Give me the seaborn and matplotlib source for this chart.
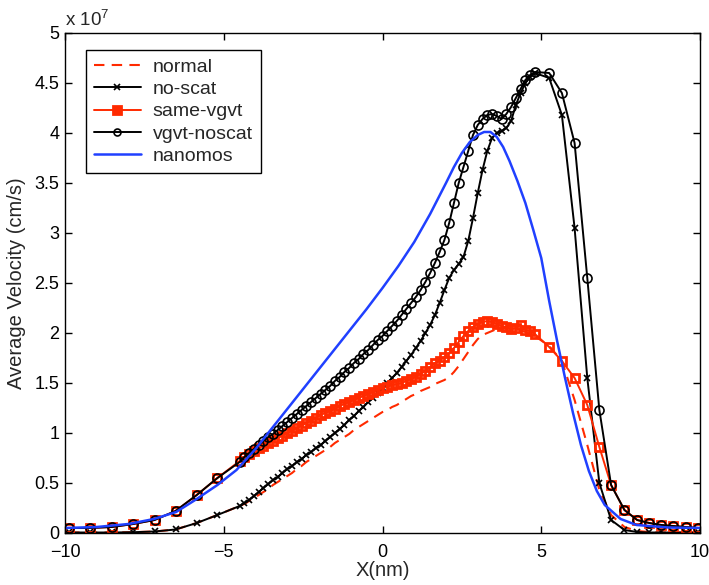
import matplotlib
matplotlib.use("Agg")
import matplotlib.pyplot as plt
import seaborn as sns
import pandas as pd

# ---------------- data (velocity in units of 1e7 cm/s) ----------------
x_nm = [-9.87, -9.2, -8.52, -7.85, -7.18, -6.52, -5.85, -5.2, -4.5,
        -4.35, -4.2, -4.05, -3.9, -3.75, -3.6, -3.45, -3.3, -3.15, -3.0,
        -2.85, -2.7, -2.55, -2.4, -2.25, -2.1, -1.95, -1.8, -1.65, -1.5,
        -1.35, -1.2, -1.05, -0.9, -0.75, -0.6, -0.45, -0.3, -0.15, 0.0,
        0.15, 0.3, 0.45, 0.6, 0.75, 0.9, 1.05, 1.2, 1.35, 1.5,
        1.65, 1.8, 1.95, 2.1, 2.25, 2.4, 2.55, 2.7, 2.85, 3.0,
        3.15, 3.3, 3.45, 3.6, 3.75, 3.9, 4.05, 4.2, 4.35, 4.5,
        4.65, 4.8,
        5.25, 5.65, 6.05, 6.45, 6.83, 7.2, 7.62, 8.02, 8.4, 8.78, 9.15, 9.55, 9.95]

normal = [0.005, 0.005, 0.005, 0.008, 0.015, 0.035, 0.10, 0.18, 0.27,
          0.29, 0.32, 0.35, 0.38, 0.41, 0.44, 0.48, 0.51, 0.54, 0.57,
          0.60, 0.64, 0.67, 0.71, 0.74, 0.77, 0.80, 0.83, 0.86, 0.90,
          0.93, 0.96, 0.99, 1.03, 1.06, 1.09, 1.12, 1.15, 1.18, 1.21,
          1.23, 1.26, 1.28, 1.31, 1.34, 1.37, 1.39, 1.42, 1.44, 1.46,
          1.49, 1.51, 1.53, 1.56, 1.61, 1.67, 1.74, 1.81, 1.88, 1.94,
          1.98, 2.00, 2.02, 2.04, 2.05, 2.05, 2.04, 2.03, 2.02, 2.01,
          1.99, 1.97,
          1.87, 1.72, 1.33, 0.88, 0.43, 0.18, 0.06, 0.02, 0.01, 0.005, 0.005, 0.005, 0.005]

no_scat = [0.005, 0.005, 0.005, 0.008, 0.015, 0.035, 0.10, 0.18, 0.27,
           0.30, 0.33, 0.37, 0.41, 0.45, 0.49, 0.53, 0.56, 0.60, 0.64,
           0.67, 0.71, 0.74, 0.78, 0.81, 0.85, 0.88, 0.92, 0.96, 1.00,
           1.04, 1.08, 1.13, 1.17, 1.22, 1.26, 1.31, 1.35, 1.40, 1.45,
           1.50, 1.55, 1.60, 1.66, 1.72, 1.78, 1.85, 1.92, 2.00, 2.08,
           2.18, 2.30, 2.43, 2.55, 2.63, 2.69, 2.76, 2.92, 3.15, 3.40,
           3.63, 3.82, 3.95, 4.00, 4.02, 4.05, 4.12, 4.28, 4.40, 4.50,
           4.56, 4.60,
           4.55, 4.18, 3.05, 1.55, 0.50, 0.13, 0.03, 0.01, 0.005, 0.005, 0.005, 0.005, 0.005]

same_vgvt = [0.05, 0.05, 0.06, 0.09, 0.13, 0.22, 0.38, 0.55, 0.72,
             0.76, 0.79, 0.82, 0.85, 0.87, 0.90, 0.92, 0.95, 0.97, 1.00,
             1.02, 1.05, 1.07, 1.10, 1.12, 1.15, 1.18, 1.20, 1.22, 1.24,
             1.27, 1.29, 1.31, 1.33, 1.35, 1.37, 1.39, 1.41, 1.43, 1.45,
             1.46, 1.48, 1.49, 1.50, 1.52, 1.54, 1.56, 1.59, 1.62, 1.66,
             1.70, 1.72, 1.76, 1.80, 1.85, 1.91, 1.97, 2.02, 2.06, 2.09,
             2.11, 2.12, 2.11, 2.09, 2.07, 2.06, 2.04, 2.05, 2.08, 2.03,
             2.02, 1.99,
             1.86, 1.72, 1.55, 1.28, 0.86, 0.48, 0.23, 0.13, 0.10, 0.08, 0.07, 0.06, 0.05]

vgvt_noscat = [0.05, 0.05, 0.06, 0.09, 0.13, 0.22, 0.38, 0.55, 0.71,
               0.76, 0.80, 0.84, 0.88, 0.92, 0.96, 0.99, 1.03, 1.07, 1.11,
               1.15, 1.19, 1.23, 1.27, 1.31, 1.35, 1.39, 1.43, 1.47, 1.52,
               1.56, 1.61, 1.65, 1.70, 1.74, 1.79, 1.83, 1.88, 1.93, 1.97,
               2.02, 2.07, 2.12, 2.18, 2.24, 2.30, 2.36, 2.43, 2.51, 2.60,
               2.70, 2.81, 2.93, 3.10, 3.30, 3.50, 3.66, 3.82, 3.98, 4.08,
               4.14, 4.18, 4.19, 4.17, 4.14, 4.19, 4.26, 4.35, 4.44, 4.53,
               4.58, 4.61,
               4.60, 4.40, 3.90, 2.55, 1.23, 0.48, 0.23, 0.13, 0.10, 0.08, 0.07, 0.06, 0.05]

x_nanomos = [-10, -9, -8, -7.2, -6.5, -5.9, -5.2, -4.6, -4.0, -3.5, -3.0, -2.5,
             -2.0, -1.5, -1.0, -0.5, 0, 0.5, 1.0, 1.5, 2.0, 2.25, 2.5, 2.75, 3.0,
             3.2, 3.4, 3.6, 3.8, 4.0, 4.25, 4.5, 4.75, 5.0, 5.25, 5.5, 5.75, 6.0,
             6.25, 6.5, 6.75, 7.0, 7.5, 8.0, 9.0, 10.0]
nanomos = [0.05, 0.06, 0.09, 0.14, 0.21, 0.33, 0.48, 0.63, 0.84, 1.04, 1.24, 1.44,
           1.64, 1.84, 2.04, 2.24, 2.45, 2.67, 2.91, 3.19, 3.50, 3.66, 3.80, 3.91, 3.98,
           4.01, 4.01, 3.96, 3.86, 3.72, 3.52, 3.30, 3.03, 2.75, 2.32, 1.92, 1.55, 1.20,
           0.88, 0.62, 0.42, 0.28, 0.14, 0.08, 0.055, 0.05]

x_ticks = [-10, -5, 0, 5, 10]
y_ticks = [0, 0.5, 1, 1.5, 2, 2.5, 3, 3.5, 4, 4.5, 5]
y_ticklabels = ["0", "0.5", "1", "1.5", "2", "2.5", "3", "3.5", "4", "4.5", "5"]

# ---------------- style ----------------
sns.set_style("ticks")
plt.rcParams["font.family"] = ["Liberation Sans", "DejaVu Sans"]
plt.rcParams["mathtext.default"] = "regular"
plt.rcParams["xtick.direction"] = "in"
plt.rcParams["ytick.direction"] = "in"

RED = "#ff2a00"
BLUE = "#2040ff"

fig = plt.figure(figsize=(7.09, 5.85), dpi=100)
ax = fig.add_axes([0.0917, 0.0889, 0.8956, 0.8547])

df = pd.DataFrame({"x": x_nm, "normal": normal, "no_scat": no_scat,
                   "same_vgvt": same_vgvt, "vgvt_noscat": vgvt_noscat})
dfb = pd.DataFrame({"x": x_nanomos, "nanomos": nanomos})

sns.lineplot(data=df, x="x", y="normal", ax=ax, color=RED, lw=1.5,
             linestyle=(0, (5, 3.5)), estimator=None, sort=False, label="normal")
sns.lineplot(data=df, x="x", y="no_scat", ax=ax, color="black", lw=1.4,
             marker="x", markersize=4.5, markeredgewidth=1.2, markeredgecolor="black",
             estimator=None, sort=False, label="no-scat")
sns.lineplot(data=df, x="x", y="same_vgvt", ax=ax, color=RED, lw=1.4,
             marker="s", markersize=5.2, markerfacecolor="none", markeredgecolor=RED,
             markeredgewidth=2.0, estimator=None, sort=False, label="same-vgvt")
sns.lineplot(data=df, x="x", y="vgvt_noscat", ax=ax, color="black", lw=1.4,
             marker="o", markersize=6.5, markerfacecolor="none", markeredgecolor="black",
             markeredgewidth=1.2, estimator=None, sort=False, label="vgvt-noscat")
sns.lineplot(data=dfb, x="x", y="nanomos", ax=ax, color=BLUE, lw=1.8,
             estimator=None, sort=False, label="nanomos")

ax.set_xlim(-10, 10)
ax.set_ylim(0, 5)
ax.set_xticks(x_ticks)
ax.set_xticklabels([str(t).replace("-", "\u2212") for t in x_ticks])
ax.set_yticks(y_ticks)
ax.set_yticklabels(y_ticklabels)
ax.tick_params(axis="both", which="both", direction="in", length=5, width=1,
               top=True, right=True, labelsize=13, colors="black")
ax.tick_params(axis="x", pad=8)
ax.tick_params(axis="y", pad=4)
for s in ax.spines.values():
    s.set_visible(True)
    s.set_color("black")
    s.set_linewidth(1.0)

ax.set_xlabel("X(nm)", fontsize=14.5, labelpad=0)
ax.set_ylabel("Average Velocity (cm/s)", fontsize=14.5, labelpad=6)
ax.text(0.0, 1.006, "x 10$^{7}$", transform=ax.transAxes, fontsize=13.5,
        ha="left", va="bottom")

leg = ax.legend(loc="upper left", bbox_to_anchor=(0.033, 0.966), fontsize=14,
                frameon=True, fancybox=False, edgecolor="black", framealpha=1,
                handlelength=2.4, labelspacing=0.24, borderpad=0.42,
                handletextpad=0.6, borderaxespad=0, numpoints=1)
leg.get_frame().set_linewidth(1.0)
for h in leg.legend_handles:
    if h.get_marker() == "o":
        h.set_markersize(5)
    if h.get_marker() == "s":
        h.set_markersize(6)
        h.set_markerfacecolor(RED)
    if h.get_marker() == "x":
        h.set_markersize(5)

fig.savefig("out.png", dpi=100, facecolor="white")
